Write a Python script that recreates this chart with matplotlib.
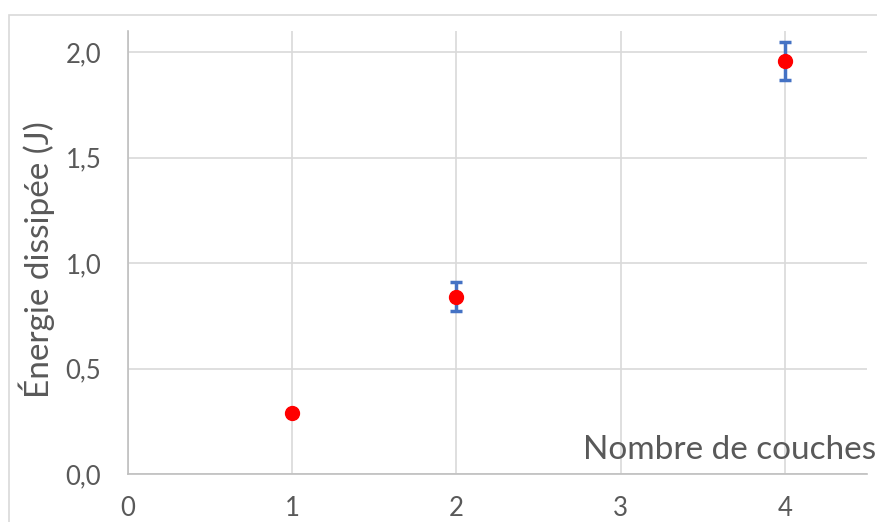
import matplotlib
matplotlib.use("Agg")
import matplotlib.pyplot as plt
from matplotlib.patches import Rectangle

# data
couches = [1, 2, 4]
energie = [0.29, 0.84, 1.96]
erreur = [0.01, 0.068, 0.09]
xticks = [0, 1, 2, 3, 4]
yticks = [0.0, 0.5, 1.0, 1.5, 2.0]

plt.rcParams['font.family'] = ['Lato', 'DejaVu Sans']
gris = '#595959'

W, H = 878, 522
fig = plt.figure(figsize=(W / 100, H / 100), dpi=100)
ax = fig.add_axes([127.7 / W, 48 / H, (867 - 127.7) / W, (474 - 31) / H])

# chart frame (cut off at the right and bottom like the reference)
fig.patches.append(Rectangle((9 / W, -0.1), 1.2, (522 - 15) / H + 0.1,
                             transform=fig.transFigure, fill=False,
                             edgecolor='#D9D9D9', linewidth=1.2))

ax.errorbar(couches, energie, yerr=erreur, fmt='none', ecolor='#4472C4',
            elinewidth=2.5, capsize=4, capthick=2.5, zorder=3)
ax.plot(couches, energie, 'o', color='#FF0000', markersize=10, zorder=4)

ax.set_xlim(0, 4.5)
ax.set_ylim(0, 2.1)
ax.set_xticks(xticks)
ax.set_yticks(yticks)
ax.set_yticklabels([f"{v:.1f}".replace('.', ',') for v in yticks])
ax.tick_params(length=0, labelsize=18.5, colors=gris)
ax.tick_params(axis='y', pad=19)
ax.tick_params(axis='x', pad=16)
ax.grid(True, color='#D9D9D9', linewidth=1.2)
ax.set_axisbelow(True)
for s in ['top', 'right']:
    ax.spines[s].set_visible(False)
for s in ['left', 'bottom']:
    ax.spines[s].set_color('#BFBFBF')
    ax.spines[s].set_linewidth(1.2)

ax.set_ylabel('Énergie dissipée (J)', fontsize=24, color=gris)
ax.yaxis.set_label_coords(-0.098, 0.485)
ax.text(1.0125, 0.02, 'Nombre de couches', transform=ax.transAxes,
        ha='right', va='bottom', fontsize=24, color=gris)

fig.savefig('out.png', dpi=100)
